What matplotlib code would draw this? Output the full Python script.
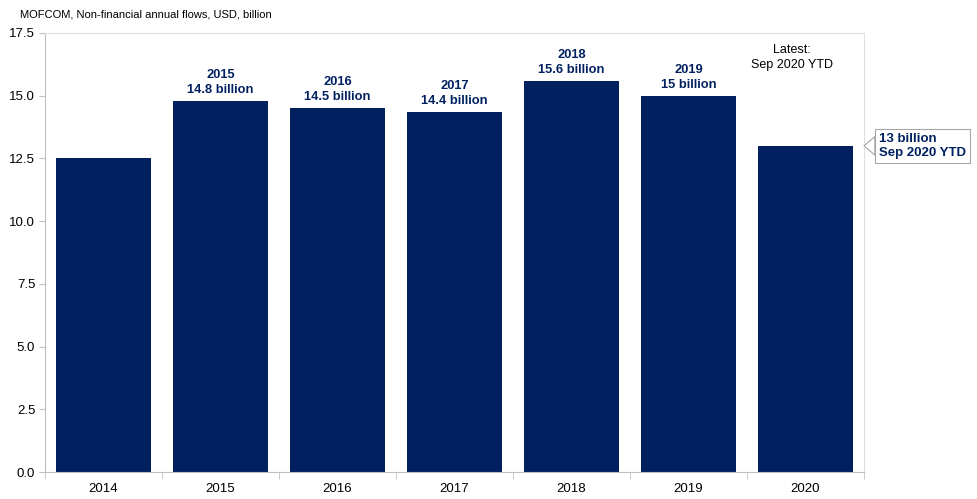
import matplotlib.pyplot as plt
from matplotlib.ticker import FixedLocator, NullFormatter

plt.rcParams['font.family'] = ['Liberation Sans', 'DejaVu Sans']

years = ['2014', '2015', '2016', '2017', '2018', '2019', '2020']
flows = [12.5, 14.8, 14.5, 14.35, 15.6, 15.0, 13.0]
bar_labels = ['', '2015\n14.8 billion', '2016\n14.5 billion', '2017\n14.4 billion',
              '2018\n15.6 billion', '2019\n15 billion', '']
yticks = [0.0, 2.5, 5.0, 7.5, 10.0, 12.5, 15.0, 17.5]

navy = '#002060'
grey = '#bfbfbf'

fig = plt.figure(figsize=(9.78, 4.99), dpi=100)
ax = fig.add_axes([0.046, 0.054, 0.8374, 0.88])

x = range(len(years))
bars = ax.bar(x, flows, width=0.81, color=navy, zorder=2)

for b, lab in zip(bars, bar_labels):
    if lab:
        ax.text(b.get_x() + b.get_width() / 2, b.get_height() + 0.2, lab,
                ha='center', va='bottom', fontsize=9.3, fontweight='bold',
                color=navy, linespacing=1.3)

ax.set_xlim(-0.5, len(years) - 0.5)
ax.set_ylim(0, 17.5)
ax.set_yticks(yticks)
ax.set_yticklabels([f'{v:.1f}' for v in yticks])
ax.set_xticks(list(x))
ax.set_xticklabels(years)
ax.xaxis.set_minor_locator(FixedLocator([i - 0.5 for i in range(len(years) + 1)]))
ax.xaxis.set_minor_formatter(NullFormatter())
ax.tick_params(axis='x', which='major', length=0, pad=8, labelsize=9.5)
ax.tick_params(axis='x', which='minor', length=5, color=grey)
ax.tick_params(axis='y', length=4, color=grey, labelsize=9.5, pad=3)

for s in ax.spines.values():
    s.set_color(grey)
    s.set_linewidth(0.8)
ax.spines['top'].set_color('#e0e0e0')
ax.spines['right'].set_color('#e0e0e0')

fig.text(0.02, 0.97, 'MOFCOM, Non-financial annual flows, USD, billion',
         fontsize=8, ha='left', va='center')

ax.text(0.912, 0.975, 'Latest:\nSep 2020 YTD', transform=ax.transAxes,
        ha='center', va='top', fontsize=9, linespacing=1.35)

# callout for the latest year-to-date figure
ax.annotate('13 billion\nSep 2020 YTD', xy=(len(years) - 0.5, flows[-1]),
            xytext=(len(years) - 0.37, flows[-1]), textcoords='data',
            ha='left', va='center', fontsize=9.5, fontweight='bold',
            color=navy, linespacing=1.3, annotation_clip=False,
            bbox=dict(boxstyle='square,pad=0.3', fc='white', ec='#a6a6a6', lw=0.8),
            arrowprops=dict(arrowstyle='wedge,tail_width=1.4,shrink_factor=0.5',
                            fc='white', ec='#a6a6a6', lw=0.8,
                            shrinkA=0, shrinkB=0))

fig.savefig('out.png', dpi=100)
